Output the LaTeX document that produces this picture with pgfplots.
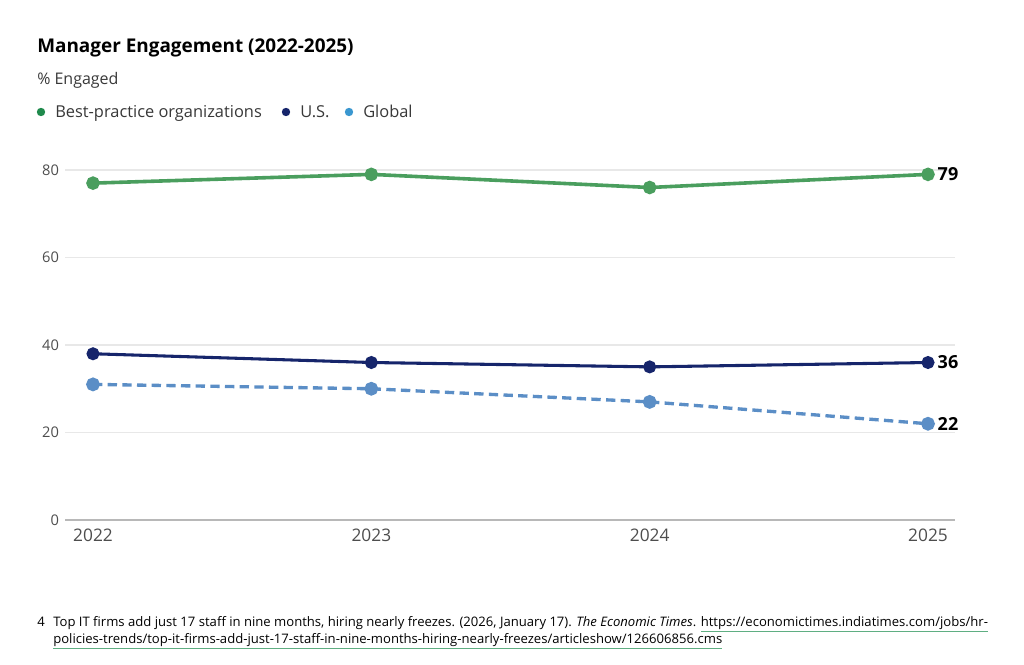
\documentclass[border=0pt]{standalone}
\usepackage{pgfplots}
\pgfplotsset{compat=1.18}
\usepackage{fontspec}
\setmainfont{Open Sans}
\definecolor{cgreen}{HTML}{4A9E5E}
\definecolor{cgreendot}{HTML}{1F8A4C}
\definecolor{cnavy}{HTML}{16256B}
\definecolor{cglob}{HTML}{5B8EC6}
\definecolor{cglobdot}{HTML}{3A97D0}
\definecolor{ctick}{HTML}{4D4D4D}
\definecolor{cgrid}{HTML}{E8E8E8}
\definecolor{culine}{HTML}{5FAE82}
\begin{document}
\begin{tikzpicture}
\begin{scope}[x=0.75pt,y=-0.75pt]
\useasboundingbox (0,0) rectangle (1024,664);
\end{scope}
\begin{axis}[
  at={(48.75pt,-390pt)}, anchor=south west,
  scale only axis, width=667.5pt, height=262.5pt,
  xmin=2021.8994, xmax=2025.097, ymin=0, ymax=80,
  axis line style={draw=none}, clip=false,
  xtick={2022,2023,2024,2025},
  ytick={0,20,40,60,80},
  ymajorgrids, grid style={cgrid, line width=0.9pt},
  xticklabel style={font=\fontsize{13}{14}\selectfont, text=ctick, yshift=-3.5pt},
  yticklabel style={font=\fontsize{11}{13}\selectfont, text=ctick, xshift=-1pt},
  xticklabel={\pgfmathprintnumber[1000 sep={}]{\tick}},
  /pgf/number format/assume math mode=true,
  major tick length=0pt, tick style={draw=none},
]
\draw[black!28, line width=0.9pt] (axis cs:2021.8994,0) -- (axis cs:2025.097,0);
\addplot[cgreen, line width=2.7pt, mark=*, mark size=3.7pt, mark options={solid,fill=cgreen,draw=cgreen}]
  coordinates {(2022,77) (2023,79) (2024,76) (2025,79)};
\addplot[cnavy, line width=2.3pt, mark=*, mark size=3.7pt, mark options={solid,fill=cnavy,draw=cnavy}]
  coordinates {(2022,38) (2023,36) (2024,35) (2025,36)};
\addplot[cglob, line width=2.5pt, dash pattern=on 7pt off 4pt, mark=*, mark size=3.9pt, mark options={solid,fill=cglob,draw=cglob}]
  coordinates {(2022,31) (2023,30) (2024,27) (2025,22)};
\node[anchor=west, font=\bfseries\fontsize{13.5}{15}\selectfont] at (axis cs:2025.018,79) {79};
\node[anchor=west, font=\bfseries\fontsize{13.5}{15}\selectfont] at (axis cs:2025.018,36) {36};
\node[anchor=west, font=\bfseries\fontsize{13.5}{15}\selectfont] at (axis cs:2025.018,22) {22};
\end{axis}
\begin{scope}[x=0.75pt,y=-0.75pt]
% title and legend
\node[anchor=base west, inner sep=0pt, font=\bfseries\fontsize{14.2}{16}\selectfont] at (37,52) {Manager Engagement (2022-2025)};
\node[anchor=base west, inner sep=0pt, font=\fontsize{12}{14}\selectfont, text=black!78] at (37,84) {\% Engaged};
\fill[cgreendot] (41,112) circle (4.2);
\node[anchor=base west, inner sep=0pt, font=\fontsize{12.3}{14}\selectfont, text=black!78] at (55,117.5) {Best-practice organizations};
\fill[cnavy] (286,112) circle (4.2);
\node[anchor=base west, inner sep=0pt, font=\fontsize{12.3}{14}\selectfont, text=black!78] at (300,117.5) {U.S.};
\fill[cglobdot] (349,112) circle (4.2);
\node[anchor=base west, inner sep=0pt, font=\fontsize{12.3}{14}\selectfont, text=black!78] at (363,117.5) {Global};
% footnote
\node[anchor=base west, inner sep=0pt, font=\fontsize{9.82}{11}\selectfont] at (37,626) {4};
\node[anchor=base west, inner sep=0pt, font=\fontsize{9.82}{11}\selectfont] at (53,626) {Top IT firms add just 17 staff in nine months, hiring nearly freezes. (2026, January 17). \textit{The Economic Times}. {\color{culine}\underline{\color{black}https://economictimes.indiatimes.com/jobs/hr-}}};
\node[anchor=base west, inner sep=0pt, font=\fontsize{9.82}{11}\selectfont] at (53,643) {{\color{culine}\underline{\color{black}policies-trends/top-it-firms-add-just-17-staff-in-nine-months-hiring-nearly-freezes/articleshow/126606856.cms}}};
\end{scope}
\end{tikzpicture}
\end{document}
